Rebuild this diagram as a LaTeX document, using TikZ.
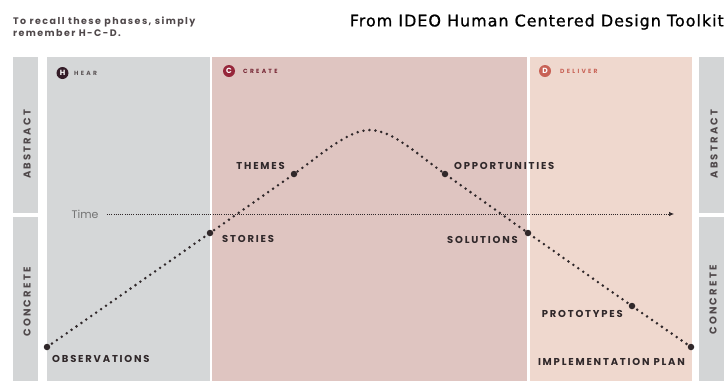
\documentclass[tikz,border=0pt]{standalone}
\usepackage{fontspec}
\setmainfont{Poppins}
\newfontfamily\titlefont[LetterSpace=6,FakeBold=1]{DejaVu Sans}
\newfontfamily\notefont[LetterSpace=15]{Poppins}
\newfontfamily\stagefont[LetterSpace=18]{Poppins}
\newfontfamily\sidefont[LetterSpace=22]{Poppins}
\newfontfamily\phasefont[LetterSpace=38]{Poppins}
\usetikzlibrary{arrows.meta}

\definecolor{sidegrey}{RGB}{211,213,214}
\definecolor{heargrey}{RGB}{213,215,216}
\definecolor{createpink}{RGB}{223,197,193}
\definecolor{deliverpeach}{RGB}{239,216,206}
\definecolor{inkdark}{RGB}{48,40,42}
\definecolor{hearbadge}{RGB}{52,28,40}
\definecolor{createbadge}{RGB}{150,38,58}
\definecolor{deliverbadge}{RGB}{200,98,86}

\tikzset{
  stage/.style={font=\stagefont\bfseries\fontsize{10}{10}\selectfont, text=inkdark, inner sep=0pt},
  side/.style={font=\sidefont\bfseries\fontsize{10}{10}\selectfont, text=inkdark!85, rotate=90, inner sep=0pt},
  phase/.style={font=\phasefont\bfseries\fontsize{6}{6}\selectfont, inner sep=0pt, anchor=west},
  badge/.style={circle, inner sep=0pt, minimum size=12pt, text=white, font=\bfseries\fontsize{7.5}{7.5}\selectfont},
  milestone/.style={circle, fill=inkdark, inner sep=0pt, minimum size=6.5pt},
  path dots/.style={draw=inkdark, line width=2.8pt, line cap=round, dash pattern=on 0pt off 6pt},
  timeline/.style={draw=inkdark, line width=0.7pt, dash pattern=on 1pt off 1.2pt, -{Latex[length=5pt,width=4.5pt]}}
}

\begin{document}
\begin{tikzpicture}[x=1pt, y=-1pt]
    \useasboundingbox (0,0) rectangle (724,381);

    % Header text
    \node[anchor=north west, align=left, inner sep=0pt, text=inkdark!85,
          font=\notefont\bfseries\fontsize{9.5}{12}\selectfont] (recall) at (13,16.5)
          {To recall these phases, simply\\remember H-C-D.};
    \node[anchor=east, inner sep=0pt, text=black, font=\titlefont\fontsize{16}{16}\selectfont]
          (title) at (724,22) {From IDEO Human Centered Design Toolkit};

    % Side bars
    \fill[sidegrey] (13,57) rectangle (38,213);
    \fill[sidegrey] (13,217) rectangle (38,381);
    \fill[sidegrey] (699,57) rectangle (724,213);
    \fill[sidegrey] (699,217) rectangle (724,381);
    \node[side] (absleft) at (27,144.5) {ABSTRACT};
    \node[side] (conleft) at (27,302) {CONCRETE};
    \node[side] (absright) at (714,144) {ABSTRACT};
    \node[side] (conright) at (713,300) {CONCRETE};

    % Phase panels
    \fill[heargrey] (47,57) rectangle (210,381);
    \fill[createpink] (212,57) rectangle (527,381);
    \fill[deliverpeach] (530,57) rectangle (692,381);

    \node[badge, fill=hearbadge] (hbadge) at (62.5,73) {H};
    \node[phase, text=inkdark!80] (hear) at (74,73) {HEAR};
    \node[badge, fill=createbadge] (cbadge) at (229,71) {C};
    \node[phase, text=createbadge!70!inkdark] (create) at (243,71) {CREATE};
    \node[badge, fill=deliverbadge] (dbadge) at (545,71) {D};
    \node[phase, text=deliverbadge] (deliver) at (560,71) {DELIVER};

    % Time axis
    \node[text=black!55, font=\fontsize{11}{11}\selectfont] (timelabel) at (85,214) {Time};
    \coordinate (timeend) at (674,214);
    \draw[timeline, shorten <=5pt] (timelabel) -- (timeend);

    % Milestones
    \node[milestone] (obs) at (47,347) {};
    \node[milestone] (stories) at (210,233) {};
    \node[milestone] (themes) at (294,174) {};
    \coordinate (peak) at (370,130);
    \node[milestone] (opps) at (445,174) {};
    \node[milestone] (solutions) at (528,233) {};
    \node[milestone] (protos) at (632,306) {};
    \node[milestone] (impl) at (691,347) {};

    \draw[path dots] (obs.center) -- (stories.center) -- (themes.center)
        .. controls (322,154) and (348,130) .. (peak)
        .. controls (392,130) and (417,154) .. (opps.center)
        -- (solutions.center) -- (protos.center) -- (impl.center);

    \node[stage, anchor=west] (obslabel) at (52,359) {OBSERVATIONS};
    \node[stage, anchor=west] (storieslabel) at (222,239) {STORIES};
    \node[stage, anchor=east] (themeslabel) at (285,166) {THEMES};
    \node[stage, anchor=west] (oppslabel) at (454,166) {OPPORTUNITIES};
    \node[stage, anchor=east] (solutionslabel) at (518,240) {SOLUTIONS};
    \node[stage, anchor=east] (protoslabel) at (623,314) {PROTOTYPES};
    \node[stage, anchor=east] (impllabel) at (685,362) {IMPLEMENTATION PLAN};
  \end{tikzpicture}
\end{document}
